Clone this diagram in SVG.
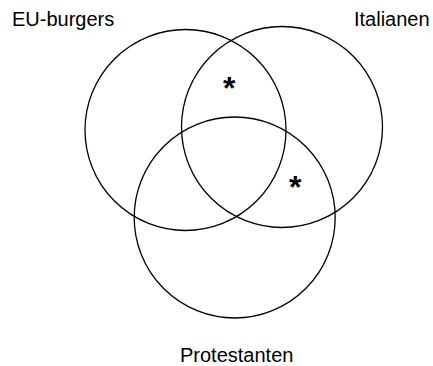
<svg xmlns="http://www.w3.org/2000/svg" width="433" height="366" viewBox="0 0 433 366">
<style>
.set{fill:none;stroke:#000;stroke-width:1.3}
.lbl{font-family:"Liberation Sans",Arial,sans-serif;font-size:20px;fill:#000}
.star{font-family:"Liberation Sans",Arial,sans-serif;font-size:32px;font-weight:bold;fill:#000;text-anchor:middle}
</style>
<rect width="433" height="366" fill="#fff"/>
<g id="eu-burgers">
<circle class="set" cx="185.5" cy="130" r="100.5"/>
<text class="lbl" x="12" y="26">EU-burgers</text>
</g>
<g id="italianen">
<circle class="set" cx="282" cy="127" r="100.5"/>
<text class="lbl" x="354" y="26">Italianen</text>
</g>
<g id="protestanten">
<circle class="set" cx="234.7" cy="217.5" r="100.5"/>
<text class="lbl" x="180" y="362">Protestanten</text>
</g>
<g id="markers">
<text class="star" x="229.3" y="99">*</text>
<text class="star" x="295.3" y="197.5">*</text>
</g>
</svg>
